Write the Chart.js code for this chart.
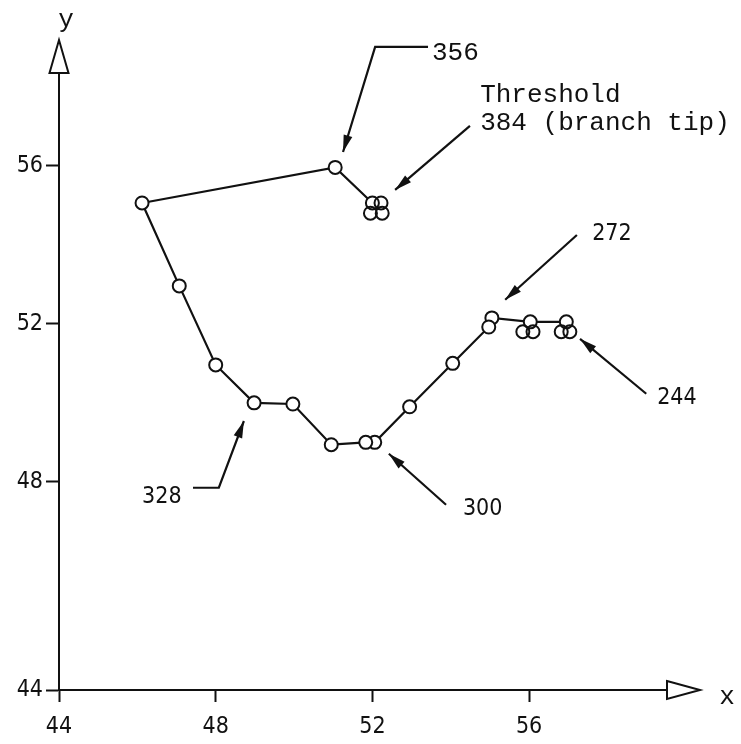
<!DOCTYPE html>
<html>
<head>
<meta charset="utf-8">
<script src="https://cdn.jsdelivr.net/npm/chart.js@4.4.1/dist/chart.umd.min.js"></script>
<style>
  html, body { margin: 0; padding: 0; background: #fff; }
  #chart { display: block; }
</style>
</head>
<body>
<canvas id="chart" width="741" height="744"></canvas>
<script>
// trajectory (path order: 244 -> 384)
const pathX = [56.95, 56.03, 55.05, 54.97, 54.05, 52.95, 52.06, 51.83, 50.95, 49.97, 48.98, 48.0, 47.07, 46.12, 51.05, 52.0];
const pathY = [52.05, 52.05, 52.15, 51.92, 51.0, 49.9, 49.0, 49.0, 48.94, 49.97, 50.0, 50.96, 52.96, 55.06, 55.96, 55.06];

// extra circles piled up at the clusters (no line)
const clusterX = [56.82, 57.04, 55.84, 56.1, 52.22, 51.95, 52.25];
const clusterY = [51.8, 51.8, 51.8, 51.8, 55.06, 54.8, 54.8];

// axis ticks
const xTicks = [44, 48, 52, 56];
const yTicks = [48, 52, 56];
const yOriginLabel = '44';   // the bottom of the y axis is labelled 44 in the figure
const xMin = 44, xMax = 59.52;
const yMin = 42.73, yMax = 58.35;

// annotation labels and their arrows (data coordinates)
const noteText = ['356', 'Threshold', '384 (branch tip)', '272', '244', '300', '328'];
const notes = [
  { text: [0],    at: [53.52, 58.68], mono: true,  path: [[53.42, 59.01], [52.07, 59.01], [51.25, 56.35]] },
  { text: [1, 2], at: [54.75, 57.62], mono: true,  path: [[54.49, 57.01], [52.58, 55.39]] },
  { text: [3],    at: [57.61, 54.13], mono: false, path: [[57.22, 54.25], [55.39, 52.61]] },
  { text: [4],    at: [59.27, 49.97], mono: false, path: [[58.99, 50.23], [57.30, 51.62]] },
  { text: [5],    at: [54.31, 47.16], mono: false, path: [[53.88, 47.42], [52.42, 48.71]] },
  { text: [6],    at: [46.12, 47.47], mono: false, path: [[47.42, 47.85], [48.08, 47.85], [48.72, 49.54]] }
];

const INK = '#111';
const SANS = '"DejaVu Sans Condensed", "DejaVu Sans", sans-serif';
const MONO = '"Liberation Mono", "DejaVu Sans Mono", monospace';

function arrowHead(ctx, from, to, len, half) {
  const a = Math.atan2(to[1] - from[1], to[0] - from[0]);
  const bx = to[0] - Math.cos(a) * len, by = to[1] - Math.sin(a) * len;
  ctx.beginPath();
  ctx.moveTo(to[0], to[1]);
  ctx.lineTo(bx + Math.sin(a) * half, by - Math.cos(a) * half);
  ctx.lineTo(bx - Math.sin(a) * half, by + Math.cos(a) * half);
  ctx.closePath();
  ctx.fill();
}

const decorations = {
  id: 'decorations',
  afterDraw(chart) {
    const { ctx, chartArea: ca, scales: { x, y } } = chart;
    ctx.save();
    ctx.strokeStyle = INK;
    ctx.fillStyle = INK;
    ctx.lineWidth = 2;

    // hollow arrow heads at the ends of the axes
    ctx.beginPath();
    ctx.moveTo(ca.left - 9.5, ca.top);
    ctx.lineTo(ca.left, ca.top - 33);
    ctx.lineTo(ca.left + 9.5, ca.top);
    ctx.closePath();
    ctx.moveTo(ca.right, ca.bottom - 9);
    ctx.lineTo(ca.right + 33, ca.bottom);
    ctx.lineTo(ca.right, ca.bottom + 9);
    ctx.closePath();
    ctx.fillStyle = '#fff';
    ctx.fill();
    ctx.stroke();
    ctx.fillStyle = INK;

    ctx.font = '26px ' + MONO;
    ctx.textAlign = 'center';
    ctx.textBaseline = 'alphabetic';
    ctx.fillText('y', ca.left + 7, ca.top - 46);
    ctx.fillText('x', ca.right + 60, ca.bottom + 14);

    // labelled arrows
    ctx.textAlign = 'left';
    notes.forEach(n => {
      ctx.font = n.mono ? '26px ' + MONO : '23px ' + SANS;
      const tx = x.getPixelForValue(n.at[0]);
      const ty = y.getPixelForValue(n.at[1]);
      n.text.forEach((t, i) => ctx.fillText(noteText[t], tx, ty + i * 28));

      const pts = n.path.map(p => [x.getPixelForValue(p[0]), y.getPixelForValue(p[1])]);
      ctx.lineWidth = 2.2;
      ctx.beginPath();
      ctx.moveTo(pts[0][0], pts[0][1]);
      pts.slice(1).forEach(p => ctx.lineTo(p[0], p[1]));
      ctx.stroke();
      arrowHead(ctx, pts[pts.length - 2], pts[pts.length - 1], 17, 4.5);
    });
    ctx.restore();
  }
};

new Chart(document.getElementById('chart'), {
  type: 'scatter',
  data: {
    datasets: [
      {
        data: clusterX.map((v, i) => ({ x: v, y: clusterY[i] })),
        showLine: false,
        pointRadius: 6.5,
        pointBorderWidth: 2,
        pointBorderColor: INK,
        pointBackgroundColor: 'rgba(255,255,255,0)'
      },
      {
        data: pathX.map((v, i) => ({ x: v, y: pathY[i] })),
        showLine: true,
        borderColor: INK,
        borderWidth: 2.2,
        pointRadius: 6.5,
        pointBorderWidth: 2,
        pointBorderColor: INK,
        pointBackgroundColor: '#fff'
      }
    ]
  },
  options: {
    responsive: false,
    animation: false,
    layout: { padding: { top: 73, right: 74, left: 0, bottom: 0 } },
    plugins: { legend: { display: false }, tooltip: { enabled: false } },
    scales: {
      x: {
        type: 'linear',
        min: xMin,
        max: xMax,
        afterBuildTicks: s => { s.ticks = xTicks.map(v => ({ value: v })); },
        afterFit: s => { s.height = 54; },
        border: { display: true, color: INK, width: 2 },
        grid: { drawOnChartArea: false, drawTicks: true, tickLength: 12, tickWidth: 2, tickColor: INK },
        ticks: { color: INK, padding: 11, maxRotation: 0, font: { family: SANS, size: 23 } }
      },
      y: {
        type: 'linear',
        min: yMin,
        max: yMax,
        afterBuildTicks: s => { s.ticks = [yMin].concat(yTicks).map(v => ({ value: v })); },
        afterFit: s => { s.width = 59; },
        border: { display: true, color: INK, width: 2 },
        grid: { drawOnChartArea: false, drawTicks: true, tickLength: 13, tickWidth: 2, tickColor: INK },
        ticks: {
          color: INK,
          padding: 3,
          font: { family: SANS, size: 23 },
          callback: v => (v === yMin ? yOriginLabel : String(v))
        }
      }
    }
  },
  plugins: [decorations]
});
</script>
</body>
</html>
